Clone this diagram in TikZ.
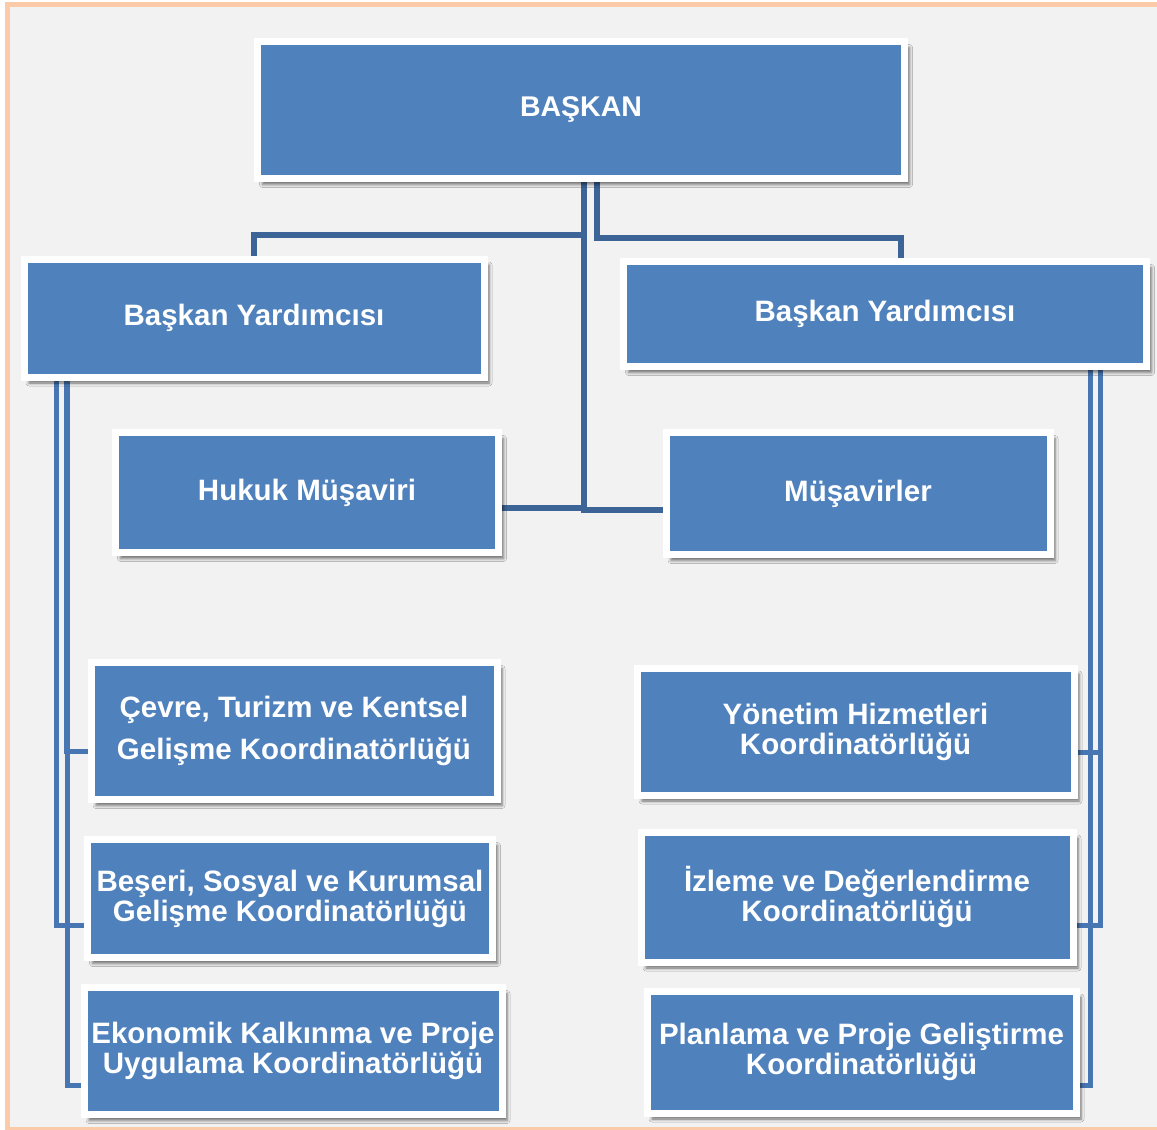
\documentclass[tikz,border=0pt]{standalone}
\usepackage{fontspec}
\setmainfont{Liberation Sans}
\usetikzlibrary{shadows.blur,backgrounds}
\definecolor{kutumavi}{RGB}{79,129,189}
\definecolor{cizgi}{RGB}{60,100,150}
\definecolor{yancizgi}{RGB}{72,118,178}
\definecolor{zemin}{RGB}{242,242,242}
\definecolor{cerceve}{RGB}{251,202,168}
\tikzset{
  kutu/.style={draw=white,line width=7pt,fill=kutumavi,text=white,
    font=\fontsize{29.5}{30}\selectfont\bfseries,align=center,inner sep=0pt,
    blur shadow={shadow xshift=5pt,shadow yshift=-6pt,shadow blur radius=3pt,shadow opacity=55}},
  ana/.style={cizgi,line width=6pt},
  yan/.style={yancizgi,line width=5pt}
}
\begin{document}
\begin{tikzpicture}[x=1pt,y=-1pt]
  \useasboundingbox (0,0) rectangle (1157,1130);
  % Kutular
  \node[kutu,minimum width=647pt,minimum height=137pt,font=\fontsize{28.5}{30}\selectfont\bfseries] (baskan) at (581,110) {BAŞKAN};
  \node[kutu,minimum width=460pt,minimum height=118pt] (byl) at (254,318) {Başkan Yardımcısı};
  \node[kutu,minimum width=523pt,minimum height=105pt] (byr) at (885,314) {Başkan Yardımcısı};
  \node[kutu,minimum width=383pt,minimum height=120pt] (hukuk) at (307,492.5) {Hukuk Müşaviri};
  \node[kutu,minimum width=384pt,minimum height=122pt] (musavir) at (858,493.5) {Müşavirler};
  \node[kutu,minimum width=406pt,minimum height=137pt] (cevre) at (294,731) {Çevre, Turizm ve Kentsel\\[12pt]Gelişme Koordinatörlüğü};
  \node[kutu,minimum width=405pt,minimum height=118pt] (beseri) at (290,898.5) {Beşeri, Sosyal ve Kurumsal\\Gelişme Koordinatörlüğü};
  \node[kutu,minimum width=418pt,minimum height=127pt] (ekonomik) at (293,1051) {Ekonomik Kalkınma ve Proje\\Uygulama Koordinatörlüğü};
  \node[kutu,minimum width=437pt,minimum height=127pt] (yonetim) at (855.5,731.5) {Yönetim Hizmetleri\\Koordinatörlüğü};
  \node[kutu,minimum width=432pt,minimum height=130pt] (izleme) at (857,897) {İzleme ve Değerlendirme\\Koordinatörlüğü};
  \node[kutu,minimum width=429pt,minimum height=122pt] (planlama) at (861.5,1052) {Planlama ve Proje Geliştirme\\Koordinatörlüğü};
  \begin{scope}[on background layer]
    % Zemin
    \draw[fill=zemin,draw=cerceve,line width=5pt] (7.5,4.5) rectangle (1165,1129.5);
    % Başkana bağlı çizgiler
    \draw[ana] ([xshift=3pt]baskan.south) -- ++(0,53) -| (byl.north);
    \draw[ana] ([xshift=16pt]baskan.south) -- ++(0,56) -| ([xshift=16pt]byr.north);
    \draw[ana] ([xshift=3pt]baskan.south) |- ([yshift=-15.5pt]hukuk.east);
    \draw[ana] ([xshift=3pt]baskan.south) |- ([yshift=-16.5pt]musavir.west);
    % Yan çizgiler
    \draw[yan] ([xshift=36pt]byl.south west) |- ([yshift=-26.5pt]beseri.west);
    \draw[yan] ([xshift=46pt]byl.south west) |- ([yshift=-20pt]cevre.west);
    \draw[yan] ([xshift=47pt]byl.south west) |- ([yshift=-34pt]ekonomik.west);
    \draw[yan] ([xshift=-50pt]byr.south east) |- ([yshift=-20.5pt]yonetim.east);
    \draw[yan] ([xshift=-50pt]byr.south east) |- ([yshift=-28pt]izleme.east);
    \draw[yan] ([xshift=-60pt]byr.south east) |- ([yshift=-33pt]planlama.east);
  \end{scope}
\end{tikzpicture}
\end{document}
